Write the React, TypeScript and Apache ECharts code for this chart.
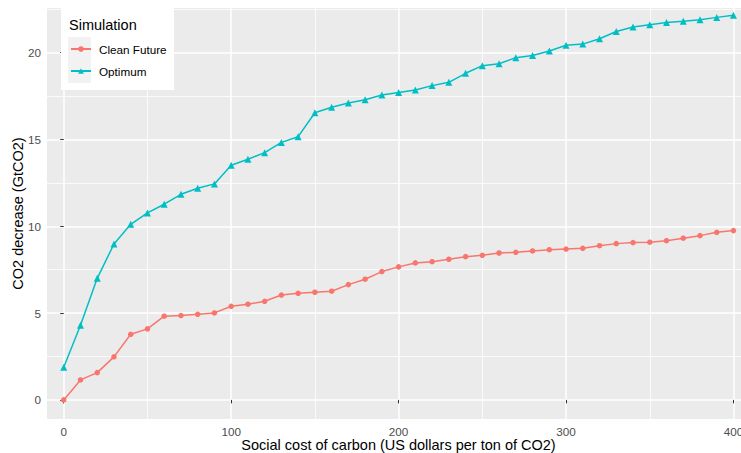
import React, { useEffect, useRef } from "react";
import * as echarts from "echarts";

const xValues = [
  0, 10, 20, 30, 40, 50, 60, 70, 80, 90, 100, 110, 120, 130, 140, 150, 160, 170, 180, 190, 200,
  210, 220, 230, 240, 250, 260, 270, 280, 290, 300, 310, 320, 330, 340, 350, 360, 370, 380, 390, 400,
];
const cleanFuture = [
  0, 1.15, 1.57, 2.48, 3.78, 4.09, 4.82, 4.86, 4.93, 5.01, 5.39, 5.51, 5.68, 6.04, 6.14, 6.2, 6.26,
  6.64, 6.95, 7.39, 7.66, 7.89, 7.96, 8.1, 8.25, 8.33, 8.46, 8.5, 8.58, 8.65, 8.69, 8.73, 8.88, 9.0,
  9.06, 9.08, 9.17, 9.31, 9.46, 9.65, 9.75,
];
const optimum = [
  1.88, 4.3, 7.0, 8.98, 10.11, 10.77, 11.27, 11.84, 12.19, 12.44, 13.51, 13.86, 14.24, 14.83, 15.16,
  16.54, 16.85, 17.1, 17.29, 17.56, 17.71, 17.85, 18.1, 18.29, 18.81, 19.25, 19.36, 19.71, 19.83,
  20.09, 20.42, 20.49, 20.8, 21.22, 21.47, 21.61, 21.74, 21.8, 21.89, 22.03, 22.15,
];
const seriesNames = ["Clean Future", "Optimum"];
const xTicks = [0, 100, 200, 300, 400];
const xMinor = [50, 150, 250, 350];
const yTicks = [0, 5, 10, 15, 20];
const yMinor = [2.5, 7.5, 12.5, 17.5, 22.5];

const FONT = "'Liberation Sans', Arial, Helvetica, sans-serif";
const RED = "#F8766D";
const CYAN = "#00BFC4";

export default function App() {
  const ref = useRef<HTMLDivElement>(null);
  useEffect(() => {
    if (!ref.current) return;
    const chart = echarts.init(ref.current, undefined, { renderer: "svg" });
    const xMin = -10;
    const xMax = 404.5;
    const yMin = -1.1;
    const yMax = 22.57;
    const baseX = {
      type: "value" as const,
      min: xMin,
      max: xMax,
      axisLine: { show: false },
    };
    const baseY = {
      type: "value" as const,
      min: yMin,
      max: yMax,
      axisLine: { show: false },
    };
    chart.setOption({
      animation: false,
      textStyle: { fontFamily: FONT },
      grid: {
        left: 47,
        right: 0,
        top: 8,
        bottom: 34,
        show: true,
        backgroundColor: "#EBEBEB",
        borderWidth: 0,
        containLabel: false,
        outerBoundsMode: "none",
      },
      xAxis: [
        {
          ...baseX,
          name: "Social cost of carbon (US dollars per ton of CO2)",
          nameLocation: "middle",
          nameGap: 18,
          nameMoveOverlap: false,
          nameTextStyle: { fontSize: 14.5, color: "#000", fontFamily: FONT, padding: [0, 0, 0, 9] },
          axisTick: { show: true, length: 3.5, customValues: xTicks, lineStyle: { color: "#333333", width: 1 } },
          axisLabel: { customValues: xTicks, fontSize: 11.7, color: "#4D4D4D", margin: 6, fontFamily: FONT },
          splitLine: { show: true, lineStyle: { color: "#FFFFFF", width: 1.5 } },
        },
        {
          ...baseX,
          axisTick: { show: false, customValues: xMinor },
          axisLabel: { show: false, customValues: xMinor },
          splitLine: { show: true, lineStyle: { color: "#FFFFFF", width: 0.8 } },
        },
      ],
      yAxis: [
        {
          ...baseY,
          name: "CO2 decrease (GtCO2)",
          nameLocation: "middle",
          nameGap: 22,
          nameMoveOverlap: false,
          nameTextStyle: { fontSize: 14.5, color: "#000", fontFamily: FONT },
          axisTick: { show: true, length: 3.5, customValues: yTicks, lineStyle: { color: "#333333", width: 1 } },
          axisLabel: { customValues: yTicks, fontSize: 11.7, color: "#4D4D4D", margin: 6, fontFamily: FONT },
          splitLine: { show: true, lineStyle: { color: "#FFFFFF", width: 1.5 } },
        },
        {
          ...baseY,
          axisTick: { show: false, customValues: yMinor },
          axisLabel: { show: false, customValues: yMinor },
          splitLine: { show: true, lineStyle: { color: "#FFFFFF", width: 0.8 } },
        },
      ],
      legend: {
        data: seriesNames,
        orient: "vertical",
        left: 65,
        top: 38,
        padding: 5,
        itemWidth: 20,
        itemHeight: 7,
        itemGap: 10,
        z: 10,
        textStyle: { fontSize: 11.7, color: "#000", fontFamily: FONT, padding: [0, 0, 0, 3] },
      },
      graphic: [
        {
          type: "rect",
          z: 5,
          shape: { x: 61, y: 8, width: 113, height: 82 },
          style: { fill: "#FFFFFF" },
          silent: true,
        },
        {
          type: "rect",
          z: 6,
          shape: { x: 68, y: 37, width: 23, height: 46 },
          style: { fill: "#F2F2F2" },
          silent: true,
        },
        {
          type: "text",
          z: 7,
          x: 69,
          y: 24.5,
          style: {
            text: "Simulation",
            fontSize: 14.5,
            fill: "#000",
            fontFamily: FONT,
            verticalAlign: "middle",
            align: "left",
          },
          silent: true,
        },
      ],
      series: [
        {
          name: seriesNames[0],
          type: "line",
          xAxisIndex: 0,
          yAxisIndex: 0,
          data: xValues.map((x, i) => [x, cleanFuture[i]]),
          symbol: "circle",
          symbolSize: 5.5,
          showAllSymbol: true,
          itemStyle: { color: RED },
          lineStyle: { color: RED, width: 1.5 },
          z: 3,
        },
        {
          name: seriesNames[1],
          type: "line",
          xAxisIndex: 0,
          yAxisIndex: 0,
          data: xValues.map((x, i) => [x, optimum[i]]),
          symbol: "triangle",
          symbolSize: 7,
          showAllSymbol: true,
          itemStyle: { color: CYAN },
          lineStyle: { color: CYAN, width: 1.5 },
          z: 3,
        },
      ],
    });
    return () => chart.dispose();
  }, []);
  return (
    <div
      ref={ref}
      style={{ position: "absolute", left: 0, top: 0, width: 741, height: 453 }}
    />
  );
}
